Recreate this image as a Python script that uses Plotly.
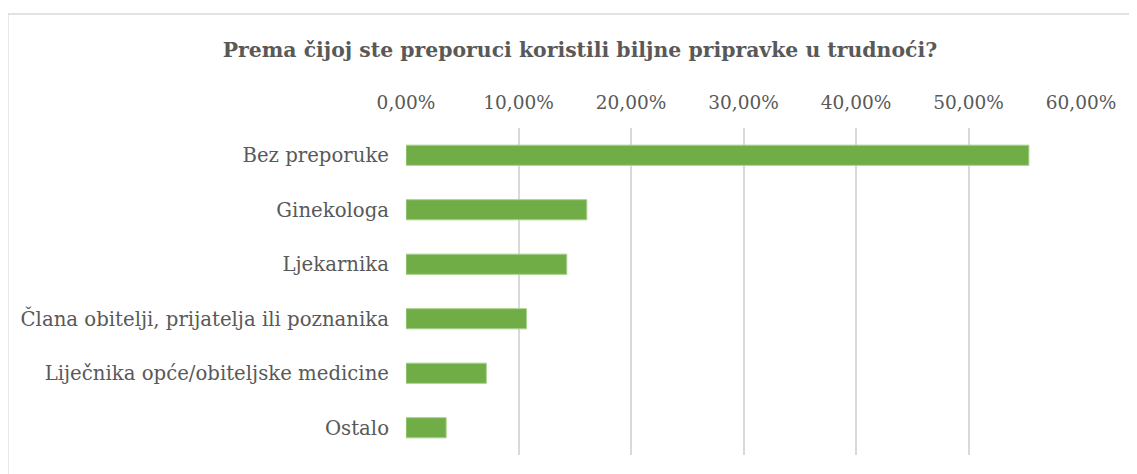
import plotly.graph_objects as go

# Prema čijoj ste preporuci... (udio ispitanica)
kategorije = [
    "Bez preporuke",
    "Ginekologa",
    "Ljekarnika",
    "Člana obitelji, prijatelja ili poznanika",
    "Liječnika opće/obiteljske medicine",
    "Ostalo",
]
udio = [0.5536, 0.1607, 0.1429, 0.1071, 0.0714, 0.0357]

SIVA = "#595959"
FONT = '"DejaVu Serif", serif'

fig = go.Figure()
fig.add_trace(go.Bar(
    y=kategorije,
    x=udio,
    orientation="h",
    width=0.37,
    marker=dict(color="#70ad47", line=dict(color="#a9d18e", width=1)),
    hoverinfo="x+y",
))

# stranica ima ~8px pomaka, pa su margine umanjene za to
fig.update_layout(
    width=1137,
    height=474,
    margin=dict(l=398, r=63, t=120, b=27),
    paper_bgcolor="white",
    plot_bgcolor="white",
    separators=",.",
    showlegend=False,
    font=dict(family=FONT, color=SIVA, size=18),
    title=dict(
        text="<b>Prema čijoj ste preporuci koristili biljne pripravke u trudnoći?</b>",
        x=0.2573, xref="paper", xanchor="center",
        y=1 - 42 / 474, yref="container", yanchor="middle",
        font=dict(size=20.4, color=SIVA, family=FONT),
    ),
    xaxis=dict(
        side="top",
        range=[0, 0.6008],
        dtick=0.1,
        tickformat=".2%",
        tickfont=dict(size=18.5),
        showgrid=True,
        gridcolor="#d9d9d9",
        gridwidth=1.5,
        zeroline=False,
        showline=False,
        ticks="",
        ticklabelstandoff=14,
        fixedrange=True,
    ),
    yaxis=dict(
        autorange="reversed",
        tickfont=dict(size=19.7),
        showgrid=False,
        zeroline=False,
        showline=False,
        ticks="",
        ticklabelstandoff=16,
        fixedrange=True,
    ),
    shapes=[dict(
        type="rect", xref="paper", yref="paper",
        x0=-0.589, x1=1.093, y0=-0.08, y1=1.349,
        line=dict(color="#d9d9d9", width=1.5),
        fillcolor="rgba(0,0,0,0)", layer="below",
    )],
)

fig.write_html("out.html")
